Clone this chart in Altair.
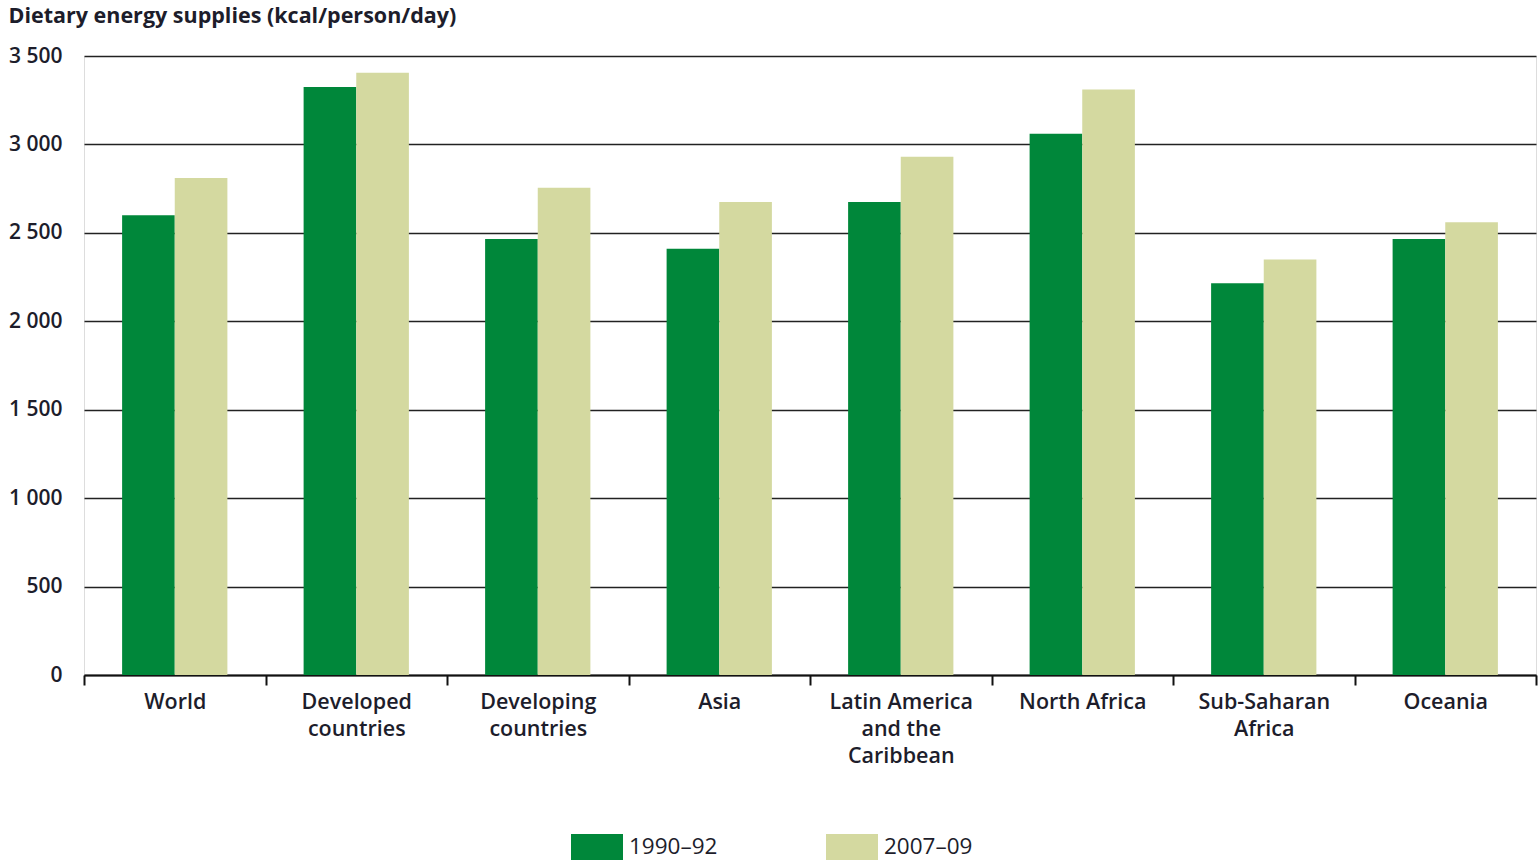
import altair as alt
import pandas as pd

# Regions (line breaks mark where the axis labels wrap)
regions = [
    "World",
    "Developed\ncountries",
    "Developing\ncountries",
    "Asia",
    "Latin America\nand the\nCaribbean",
    "North Africa",
    "Sub-Saharan\nAfrica",
    "Oceania",
]
periods = ["1990–92", "2007–09"]
kcal_1990_92 = [2600, 3325, 2465, 2410, 2675, 3060, 2215, 2465]
kcal_2007_09 = [2810, 3405, 2755, 2675, 2930, 3310, 2350, 2560]
y_ticks = [0, 500, 1000, 1500, 2000, 2500, 3000, 3500]
bar_colors = ["#00873A", "#D4D9A0"]

rows = []
for r, a, b in zip(regions, kcal_1990_92, kcal_2007_09):
    rows.append({"region": r, "period": periods[0], "kcal": a})
    rows.append({"region": r, "period": periods[1], "kcal": b})
df = pd.DataFrame(rows)

FONT = "Open Sans"
TEXT = "#1d1d2b"

chart = (
    alt.Chart(df)
    .mark_bar()
    .encode(
        x=alt.X(
            "region:N",
            sort=regions,
            scale=alt.Scale(paddingInner=0, paddingOuter=0),
            axis=alt.Axis(
                title=None,
                labelAngle=0,
                labelExpr="split(datum.label, '\\n')",
                labelFont=FONT,
                labelFontSize=21.5,
                labelFontWeight=600,
                labelColor=TEXT,
                labelPadding=6,
                labelLineHeight=27,
                labelBaseline="top",
                domainColor="#111111",
                domainWidth=2,
                tickColor="#111111",
                tickWidth=2,
                tickSize=10,
                tickBand="extent",
                grid=False,
            ),
        ),
        xOffset=alt.XOffset(
            "period:N",
            sort=periods,
            scale=alt.Scale(paddingInner=0, paddingOuter=0.724),
        ),
        y=alt.Y(
            "kcal:Q",
            scale=alt.Scale(domain=[0, 3500], nice=False),
            axis=alt.Axis(
                title="Dietary energy supplies (kcal/person/day)",
                titleAngle=0,
                titleX=-76,
                titleY=-34,
                titleAlign="left",
                titleBaseline="alphabetic",
                titleFont=FONT,
                titleFontSize=21.5,
                titleFontWeight=700,
                titleColor=TEXT,
                values=y_ticks,
                format=",d",
                labelExpr="replace(datum.label, ',', ' ')",
                labelFont=FONT,
                labelFontSize=21,
                labelFontWeight=600,
                labelColor=TEXT,
                labelPadding=22,
                domain=False,
                ticks=False,
                grid=True,
                gridColor="#222222",
                gridWidth=1.5,
            ),
        ),
        color=alt.Color(
            "period:N",
            sort=periods,
            scale=alt.Scale(domain=periods, range=bar_colors),
            legend=alt.Legend(
                title=None,
                orient="none",
                direction="horizontal",
                legendX=487,
                legendY=765,
                padding=0,
                symbolType="M-1,-0.5H1V0.5H-1Z",
                symbolSize=2704,
                symbolStrokeWidth=0,
                symbolOpacity=1,
                labelFont=FONT,
                labelFontSize=22.5,
                labelColor=TEXT,
                labelOffset=6,
                columnPadding=108,
            ),
        ),
    )
    .properties(
        width=1452,
        height=619,
        autosize=alt.AutoSizeParams(type="none"),
        padding={"left": 84, "top": 56, "right": 3, "bottom": 188},
    )
    .configure_view(stroke=None)
    .configure(background="white")
)

chart.save("out.html", embed_options={"renderer": "svg", "actions": False})
